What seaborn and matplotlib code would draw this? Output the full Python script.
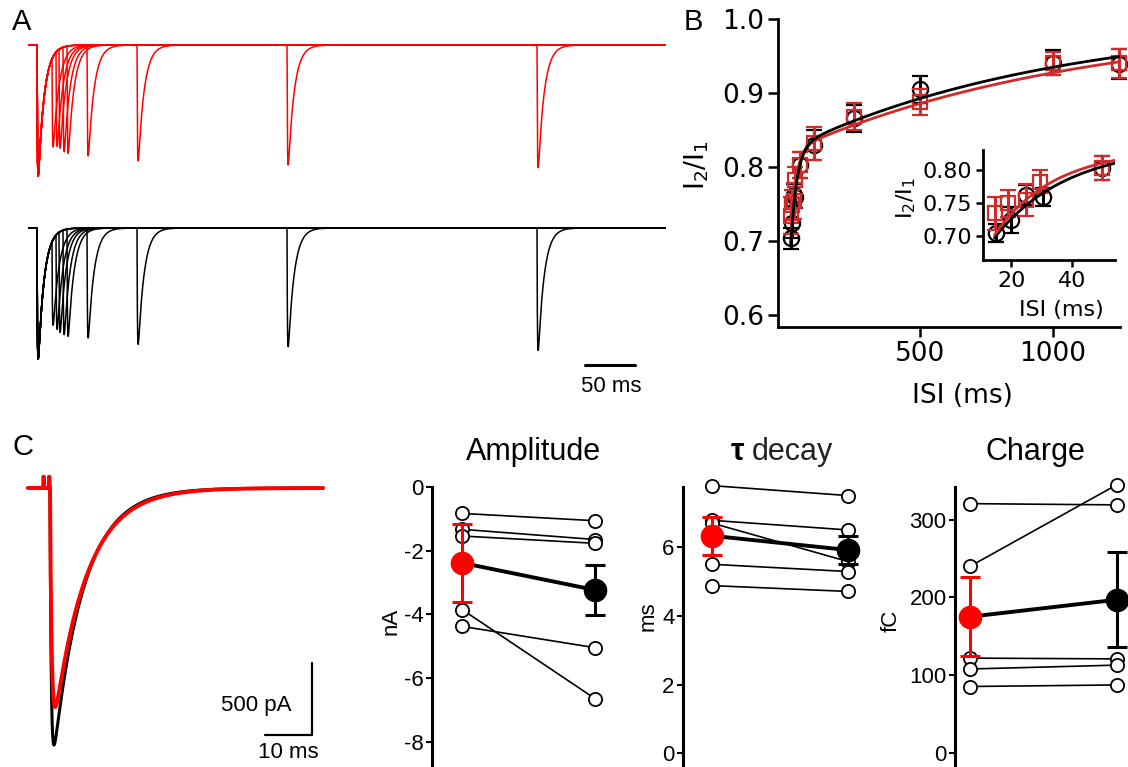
"""
Paired-pulse recovery and EPSC comparison figure (panels A-C)
"""

import numpy as np
import pandas as pd
import matplotlib
matplotlib.use("Agg")
import matplotlib.pyplot as plt
import seaborn as sns

W, H = 1128, 767

# --- 0. Data ---

# A: example cell, second-pulse size relative to the first, per sweep
sweep_isi = [15, 19, 22, 26, 30, 50, 100, 250, 500]
sweep_red = [0.69, 0.73, 0.76, 0.80, 0.82, 0.846, 0.885, 0.915, 0.936]
sweep_black = [0.654, 0.73, 0.77, 0.80, 0.82, 0.839, 0.888, 0.906, 0.935]
kin_sweeps = [0.4, 6.0]          # EPSC rise, decay (ms)

# B: paired-pulse ratio (I2/I1) against inter-stimulus interval (ms)
isi_black = [15, 20, 25, 30.5, 50, 100, 250, 500, 1000, 1250]
ppr_black = [0.704, 0.724, 0.762, 0.759, 0.803, 0.830, 0.866, 0.905, 0.941, 0.939]
sem_black = [0.014, 0.020, 0.015, 0.014, 0.018, 0.020, 0.018, 0.018, 0.017, 0.020]
isi_red = [14.5, 19, 25, 29.5, 50, 100, 250, 500, 1000, 1250]
ppr_red = [0.734, 0.749, 0.754, 0.782, 0.803, 0.832, 0.868, 0.888, 0.940, 0.940]
sem_red = [0.025, 0.020, 0.024, 0.018, 0.018, 0.022, 0.018, 0.018, 0.015, 0.020]

# bi-exponential recovery fits: a_fast, tau_fast, a_slow, tau_slow
fit_black = [0.244, 22.7, 0.177, 1000]
fit_red = [0.265, 18.6, 0.180, 1100]

# C: example EPSCs (peak pA, onset ms, rise ms, decay ms)
epsc_black = [1785, 0.0, 0.25, 6.4]
epsc_red = [1521, 0.0, 0.35, 6.9]

# C: per-cell values (same cell order in both conditions)
amp_red = [-0.83, -1.33, -1.54, -3.85, -4.38]
amp_black = [-1.06, -1.65, -1.77, -6.65, -5.05]
amp_err = [1.22, 0.79]
tau_red = [7.79, 6.78, 6.70, 5.50, 4.88]
tau_black = [7.50, 6.50, 5.58, 5.29, 4.71]
tau_err = [0.56, 0.42]
chg_red = [320.6, 240.0, 122.0, 108.0, 85.5]
chg_black = [319.0, 345.0, 121.0, 113.0, 87.5]
chg_err = [51, 61]

RED_B = '#d02a2a'

sns.set_style('ticks')
plt.rcParams['font.family'] = ['Liberation Sans', 'DejaVu Sans']
plt.rcParams['axes.unicode_minus'] = False
for key in ['text.color', 'axes.labelcolor', 'xtick.color', 'ytick.color', 'axes.edgecolor']:
    plt.rcParams[key] = 'black'

fig = plt.figure(figsize=(W / 100, H / 100), dpi=100)


def px_axes(x0, y0, x1, y1):
    return fig.add_axes([x0 / W, 1 - y1 / H, (x1 - x0) / W, (y1 - y0) / H])


def px_text(x, y, s, **kw):
    kw.setdefault('ha', 'center')
    kw.setdefault('va', 'center')
    return fig.text(x / W, 1 - y / H, s, **kw)


def epsc(t, onset, amp, tau_r, tau_d):
    s = np.clip(t - onset, 0, None)
    t_pk = tau_r * tau_d / (tau_d - tau_r) * np.log(tau_d / tau_r)
    norm = np.exp(-t_pk / tau_d) - np.exp(-t_pk / tau_r)
    return -amp * (np.exp(-s / tau_d) - np.exp(-s / tau_r)) / norm


# --- 1. Panel A: overlaid paired-pulse sweeps ---
t_a = np.arange(-8, 628, 0.05)

ax_red = px_axes(0, 20, 700, 200)
for isi, r in zip(sweep_isi, sweep_red):
    sweep = epsc(t_a, 0, 1, *kin_sweeps) + epsc(t_a, isi, r, *kin_sweeps)
    art = ((t_a >= 0) & (t_a < 0.3)) | ((t_a >= isi) & (t_a < isi + 0.3))
    sweep = sweep + 0.055 * art
    ax_red.plot(t_a, sweep, color='red', lw=1.1)
ax_red.set_xlim(-37, 663)
ax_red.set_ylim(-1.183, 0.191)
ax_red.axis('off')

ax_blk = px_axes(0, 200, 700, 420)
for isi, r in zip(sweep_isi, sweep_black):
    sweep = epsc(t_a, 0, 1, *kin_sweeps) + epsc(t_a, isi, r, *kin_sweeps)
    ax_blk.plot(t_a, sweep, color='black', lw=1.1)
ax_blk.plot([548, 598], [-1.046, -1.046], color='black', lw=2.2)
ax_blk.set_xlim(-37, 663)
ax_blk.set_ylim(-1.466, 0.214)
ax_blk.axis('off')
px_text(611, 386, '50 ms', fontsize=16)


# --- 2. Panel B: recovery curves ---
def recovery(t, p):
    return 1 - p[0] * np.exp(-t / p[1]) - p[2] * np.exp(-t / p[3])


def style_b(ax, size, tick_len):
    for s in ['top', 'right']:
        ax.spines[s].set_visible(False)
    for s in ['left', 'bottom']:
        ax.spines[s].set_linewidth(2.0)
    ax.tick_params(direction='out', length=tick_len, width=1.8, labelsize=size, pad=3)
    for lab in ax.get_xticklabels() + ax.get_yticklabels():
        lab.set_family('DejaVu Sans')


def draw_points(ax):
    ax.errorbar(isi_black, ppr_black, yerr=sem_black, fmt='o', mfc='none', mec='black',
                ms=11, mew=1.6, ecolor='black', elinewidth=2.2, capsize=6, capthick=2.2,
                zorder=3, clip_on=False)
    ax.errorbar(isi_red, ppr_red, yerr=sem_red, fmt='s', mfc='none', mec=RED_B,
                ms=10, mew=1.6, ecolor=RED_B, elinewidth=2.2, capsize=6, capthick=2.2,
                zorder=4, clip_on=False)


axB = px_axes(778, 19, 1120, 327)
draw_points(axB)
t_fit = np.linspace(14, 1252, 1500)
sns.lineplot(x=t_fit, y=recovery(t_fit, fit_red), color=RED_B, lw=2, ax=axB,
             estimator=None, sort=False, zorder=5)
sns.lineplot(x=t_fit, y=recovery(t_fit, fit_black), color='black', lw=2, ax=axB,
             estimator=None, sort=False, zorder=6)
axB.set_xlim(-34, 1252)
axB.set_ylim(0.584, 1.0)
axB.set_xticks([500, 1000])
axB.set_yticks([0.6, 0.7, 0.8, 0.9, 1.0])
axB.set_yticklabels(['0.6', '0.7', '0.8', '0.9', '1.0'])
axB.set_xlabel('')
axB.set_ylabel('')
style_b(axB, 19, 7)
px_text(962, 396, 'ISI (ms)', fontsize=19, family='DejaVu Sans')
px_text(697, 165, r'I$_2$/I$_1$', fontsize=19, rotation=90, family='DejaVu Sans')

# inset: short intervals
axI = px_axes(983, 150, 1115, 260)
axI.patch.set_alpha(0)
draw_points(axI)
t_in = np.linspace(14.5, 54.3, 300)
sns.lineplot(x=t_in, y=recovery(t_in, fit_black), color='black', lw=2, ax=axI,
             estimator=None, sort=False, zorder=5)
sns.lineplot(x=t_in, y=recovery(t_in, fit_red), color=RED_B, lw=2, ax=axI,
             estimator=None, sort=False, zorder=6)
axI.set_xlim(10.7, 54.3)
axI.set_ylim(0.663, 0.83)
axI.set_xticks([20, 40])
axI.set_yticks([0.70, 0.75, 0.80])
axI.set_yticklabels(['0.70', '0.75', '0.80'])
axI.set_xlabel('')
axI.set_ylabel('')
style_b(axI, 16, 5)
px_text(1061, 310, 'ISI (ms)', fontsize=16, family='DejaVu Sans')
px_text(906, 198, r'I$_2$/I$_1$', fontsize=16, rotation=90, family='DejaVu Sans')


# --- 3. Panel C: example EPSCs ---
t_c = np.arange(-4.7, 58.1, 0.02)
axC = px_axes(0, 460, 380, 767)
trace_black = epsc(t_c, epsc_black[1], epsc_black[0], epsc_black[2], epsc_black[3])
trace_red = epsc(t_c, epsc_red[1], epsc_red[0], epsc_red[2], epsc_red[3])
spikes = ((t_c >= -1.45) & (t_c < -1.3)) | ((t_c >= -0.25) & (t_c < -0.1))
trace_red = trace_red + 78 * spikes
axC.plot(t_c, trace_black, color='black', lw=2.2)
axC.plot(t_c, trace_red, color='red', lw=2.8)
axC.plot([45.7, 55.7, 55.7], [-1715, -1715, -1215], color='black', lw=1.6)
axC.set_xlim(-10.64, 70.2)
axC.set_ylim(-1937.5, 194.4)
axC.axis('off')
px_text(256, 706, '500 pA', fontsize=16)
px_text(288, 753, '10 ms', fontsize=16)


# --- 4. Panel C: paired per-cell comparisons ---
def paired_panel(ax, first, second, err, ylim, yticks, xlim):
    cells = pd.DataFrame({
        'cell': np.tile(np.arange(len(first)), 2),
        'cond': np.repeat([0, 1], len(first)),
        'value': np.concatenate([first, second]),
    })
    sns.lineplot(data=cells, x='cond', y='value', units='cell', estimator=None,
                 color='black', lw=1.2, marker='o', ms=9.5, mfc='white', mec='black',
                 mew=1.3, ax=ax, legend=False, clip_on=False, zorder=2)
    m0, m1 = np.mean(first), np.mean(second)
    ax.plot([0, 1], [m0, m1], color='black', lw=2.8, zorder=3, clip_on=False)
    ax.errorbar(0, m0, yerr=err[0], fmt='o', color='red', ms=16, elinewidth=2.2,
                capsize=7, capthick=2.2, zorder=4, clip_on=False)
    ax.errorbar(1, m1, yerr=err[1], fmt='o', color='black', ms=16, elinewidth=2.2,
                capsize=7, capthick=2.2, zorder=4, clip_on=False)
    ax.set_xlim(*xlim)
    ax.set_ylim(*ylim)
    ax.set_yticks(yticks)
    ax.set_xticks([])
    ax.set_xlabel('')
    ax.set_ylabel('')
    for s in ['top', 'right', 'bottom']:
        ax.spines[s].set_visible(False)
    ax.spines['left'].set_linewidth(2.2)
    ax.tick_params(axis='y', direction='out', length=4, width=1.5, labelsize=16, pad=2)
    ax.patch.set_alpha(0)


axAmp = px_axes(432, 487, 625, 767)
paired_panel(axAmp, amp_red, amp_black, amp_err, (-8.8, 0), [0, -2, -4, -6, -8], (-0.226, 1.226))
axTau = px_axes(683, 487, 878, 767)
paired_panel(axTau, tau_red, tau_black, tau_err, (-0.4, 7.75), [0, 2, 4, 6], (-0.213, 1.22))
axQ = px_axes(955, 487, 1128, 767)
paired_panel(axQ, chg_red, chg_black, chg_err, (-18, 342), [0, 100, 200, 300], (-0.102, 1.075))

px_text(534, 452, 'Amplitude', fontsize=22)
px_text(738, 452, 'τ', fontsize=22, fontweight='bold')
px_text(752, 452, 'decay', fontsize=22, ha='left', color='#222222')
px_text(1035, 452, 'Charge', fontsize=22)
px_text(391, 621, 'nA', fontsize=16, rotation=90)
px_text(648, 616, 'ms', fontsize=16, rotation=90)
px_text(891, 621, 'fC', fontsize=16, rotation=90)

# panel letters
px_text(22, 22, 'A', fontsize=21)
px_text(693, 22, 'B', fontsize=21)
px_text(23, 447, 'C', fontsize=21)

fig.savefig('out.png', dpi=100)
